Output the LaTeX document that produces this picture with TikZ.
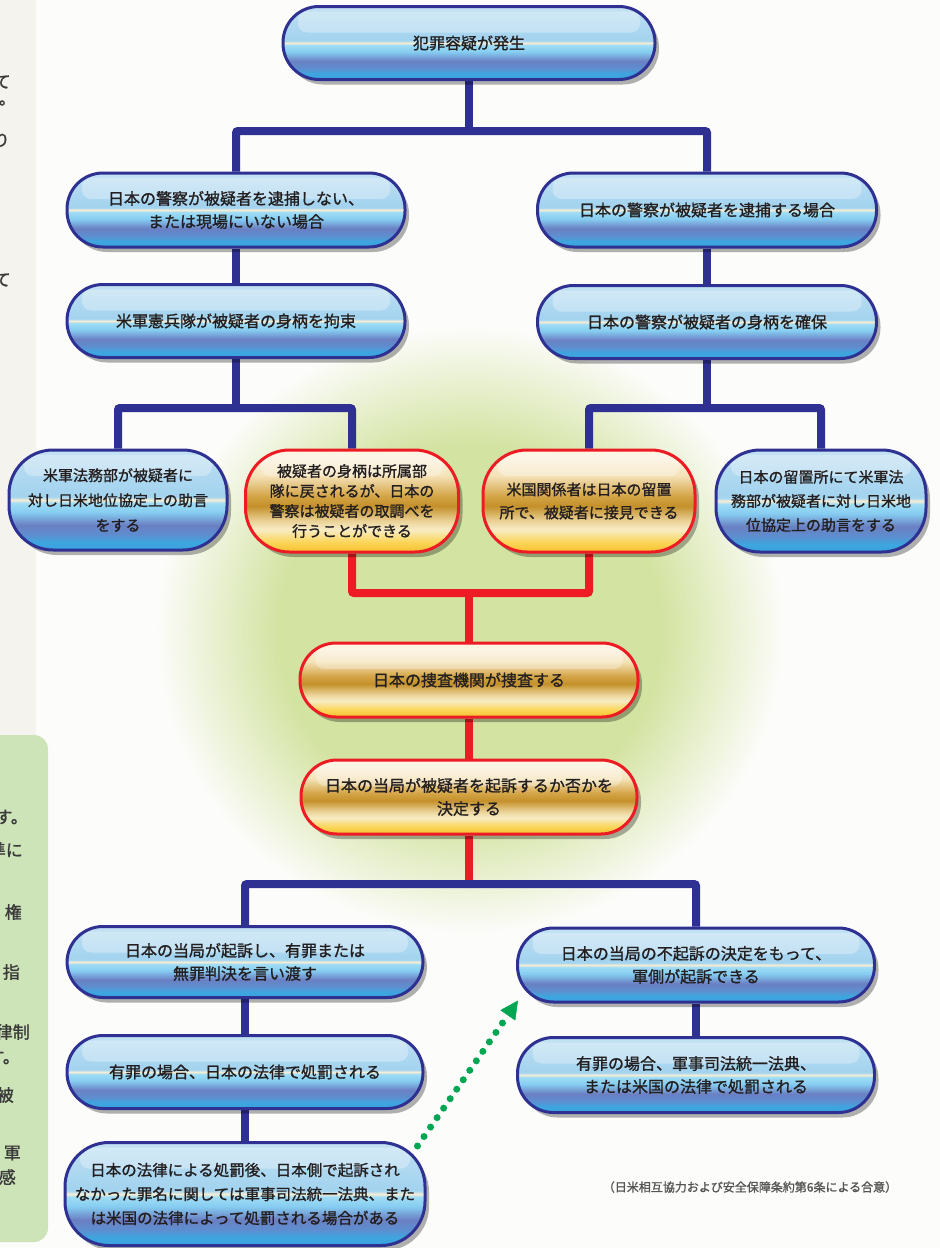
\documentclass[tikz,border=0pt]{standalone}
\usepackage{fontspec}
\newfontfamily\jpfont{Noto Sans CJK JP}[FakeBold=1.2]
\usetikzlibrary{positioning,calc,shadows,arrows.meta,backgrounds}

\definecolor{pillNavy}{HTML}{2E3192}
\definecolor{pillRed}{HTML}{ED1C24}
\definecolor{inkDark}{HTML}{231F20}
\definecolor{inkGray}{HTML}{3A3A3A}
\definecolor{noteGray}{HTML}{555555}
\definecolor{dotGreen}{HTML}{00A651}
\definecolor{glowGreen}{HTML}{D3E3A1}
\definecolor{sideGreen}{HTML}{CDE4B9}
\definecolor{paperLeft}{HTML}{F4F3EE}
\definecolor{paperMain}{HTML}{FCFCFA}
\definecolor{blueA}{HTML}{3AA2DE}
\definecolor{blueB}{HTML}{3EA5DF}
\definecolor{blueC}{HTML}{5D8FD0}
\definecolor{blueD}{HTML}{6A80C3}
\definecolor{blueE}{HTML}{86CDF1}
\definecolor{blueF}{HTML}{A0DCF5}
\definecolor{blueG}{HTML}{F4EDD5}
\definecolor{blueH}{HTML}{A8D6EF}
\definecolor{blueI}{HTML}{A3D3EF}
\definecolor{blueJ}{HTML}{B3DAF1}
\definecolor{blueK}{HTML}{C4E3F4}
\definecolor{goldA}{HTML}{F5C02C}
\definecolor{goldB}{HTML}{FBD65A}
\definecolor{goldC}{HTML}{F8ECC4}
\definecolor{goldD}{HTML}{ECD49B}
\definecolor{goldE}{HTML}{C4902A}
\definecolor{goldF}{HTML}{D4A547}
\definecolor{goldG}{HTML}{F5E3B9}
\definecolor{goldH}{HTML}{FDF7EA}

\pgfdeclareverticalshading{blueGlass}{100bp}{color(0bp)=(blueA); color(25bp)=(blueA);
	color(29bp)=(blueB); color(32.5bp)=(blueC); color(37.5bp)=(blueD);
	color(44bp)=(blueE); color(48.5bp)=(blueF); color(50bp)=(blueG);
	color(51.5bp)=(blueH); color(52.5bp)=(blueI); color(65bp)=(blueJ);
	color(75bp)=(blueK); color(100bp)=(blueK)}
\pgfdeclareverticalshading{goldGlass}{100bp}{color(0bp)=(goldA); color(25bp)=(goldA);
	color(30bp)=(goldB); color(36bp)=(goldC); color(40bp)=(goldD);
	color(47.5bp)=(goldE); color(52.5bp)=(goldF); color(62.5bp)=(goldG);
	color(75bp)=(goldH); color(100bp)=(goldH)}
\pgfdeclareradialshading{greenGlow}{\pgfpoint{0bp}{0bp}}{color(0bp)=(glowGreen); color(6.8bp)=(glowGreen);
	color(11.2bp)=(paperMain); color(50bp)=(paperMain)}

\begin{document}
\begin{tikzpicture}[x=1pt, y=-1pt,
		pill/.style={draw, line width=3pt, rounded corners=#1, align=center, inner sep=0pt, text=inkDark,
				drop shadow={shadow xshift=4pt, shadow yshift=-5pt, fill=black, opacity=.3},
				path picture={\fill[white, opacity=.3, rounded corners=9pt]
						($(path picture bounding box.north west)+(15,5)$) rectangle ($(path picture bounding box.north east)+(-15,26)$);}},
		pill/.default=36pt,
		bluePill/.style={pill=#1, draw=pillNavy, shading=blueGlass, font=\jpfont\fontsize{16}{23}\selectfont},
		bluePill/.default=36pt,
		goldPill/.style={pill=#1, draw=pillRed, shading=goldGlass, font=\jpfont\fontsize{16}{23}\selectfont},
		goldPill/.default=36pt,
		narrowText/.style={font=\jpfont\fontsize{15}{#1}\selectfont},
		navyLine/.style={draw=pillNavy, line width=8pt, rounded corners=2pt},
		redLine/.style={draw=pillRed, line width=8pt, rounded corners=2pt},
		greenDots/.style={draw=dotGreen, line width=7pt, line cap=round, dash pattern=on 0pt off 11.5pt,
				-{Triangle[length=18pt, width=18pt, line width=.5pt]}},
		edgeText/.style={font=\jpfont\fontsize{17}{20}\selectfont, text=inkGray, inner sep=0pt, anchor=east}]
	\useasboundingbox (0,0) rectangle (940,1248);

	\begin{scope}[on background layer]
		\fill[paperMain] (0,0) rectangle (940,1248);
		\fill[shading=greenGlow] (-230,-47) rectangle (1170,1307);
		\fill[paperLeft] (0,0) rectangle (36,735);
		\fill[sideGreen, rounded corners=14pt] (-20,735) rectangle (48,1242);
	\end{scope}

	\foreach \txt/\px/\py [count=\i] in {て/11/82, 。/16/103, り/10/140, て/11/280,
			す。/28/817, 準に/23/850, 権/22/912, 指/20/972, 律制/30/1032, す。/20/1057,
			被/14/1095, 軍/21/1153, 感/16/1177}
		\node[edgeText] (edgeText\i) at (\px,\py) {\txt};

	\node[bluePill, minimum width=372pt, minimum height=73pt] (crime) at (469,43) {犯罪容疑が発生};
	\node[bluePill, minimum width=338pt, minimum height=74pt] (noArrest) at (236,210) {日本の警察が被疑者を逮捕しない、\\または現場にいない場合};
	\node[bluePill, minimum width=339pt, minimum height=74pt] (arrest) at (707,210) {日本の警察が被疑者を逮捕する場合};
	\node[bluePill, minimum width=338pt, minimum height=73pt] (mpCustody) at (236,321) {米軍憲兵隊が被疑者の身柄を拘束};
	\node[bluePill, minimum width=339pt, minimum height=73pt] (jpCustody) at (707,322) {日本の警察が被疑者の身柄を確保};

	\node[bluePill=44pt, narrowText=25, minimum width=218pt, minimum height=100pt] (legalAdvice) at (118,500) {米軍法務部が被疑者に\\対し日米地位協定上の助言\\をする};
	\node[goldPill=44pt, narrowText=20, minimum width=213pt, minimum height=102pt] (returnUnit) at (352,501) {被疑者の身柄は所属部\\隊に戻されるが、日本の\\警察は被疑者の取調べを\\行うことができる};
	\node[goldPill=44pt, narrowText=23, minimum width=212pt, minimum height=102pt] (visitJail) at (589,501) {米国関係者は日本の留置\\所で、被疑者に接見できる};
	\node[bluePill=44pt, narrowText=24, minimum width=210pt, minimum height=102pt] (jailAdvice) at (821,501) {日本の留置所にて米軍法\\務部が被疑者に対し日米地\\位協定上の助言をする};

	\node[goldPill, minimum width=338pt, minimum height=74pt] (investigate) at (469,680) {日本の捜査機関が捜査する};
	\node[goldPill, minimum width=336pt, minimum height=74pt] (decide) at (469,797) {日本の当局が被疑者を起訴するか否かを\\決定する};

	\node[bluePill, minimum width=356pt, minimum height=71pt] (indict) at (245,962) {日本の当局が起訴し、有罪または\\無罪判決を言い渡す};
	\node[bluePill, minimum width=356pt, minimum height=73pt] (punishJp) at (245,1072) {有罪の場合、日本の法律で処罰される};
	\node[bluePill=44pt, font=\jpfont\fontsize{15.5}{24}\selectfont, minimum width=360pt, minimum height=103pt] (afterPunish) at (245,1194) {日本の法律による処罰後、日本側で起訴され\\なかった罪名に関しては軍事司法統一法典、また\\は米国の法律によって処罰される場合がある};
	\node[bluePill, minimum width=357pt, minimum height=74pt] (military) at (696,965) {日本の当局の不起訴の決定をもって、\\軍側が起訴できる};
	\node[bluePill, minimum width=357pt, minimum height=75pt] (punishUs) at (696,1075) {有罪の場合、軍事司法統一法典、\\または米国の法律で処罰される};

	\node[font=\jpfont\fontsize{12}{14}\selectfont, text=noteGray, inner sep=0pt] (treatyNote) at (750,1187) {（日米相互協力および安全保障条約第6条による合意）};

	\coordinate (forkTop) at (469,131);
	\coordinate (forkLeft) at (236,408);
	\coordinate (forkRight) at (707,408);
	\coordinate (redJoin) at (469,593);
	\coordinate (forkBottom) at (469,884);

	\begin{scope}[on background layer]
		\draw[navyLine] (crime.south) -- (forkTop);
		\draw[navyLine] (noArrest.north) |- (forkTop) -| (arrest.north);
		\draw[navyLine] (noArrest.south) -- (mpCustody.north);
		\draw[navyLine] (arrest.south) -- (jpCustody.north);
		\draw[navyLine] (mpCustody.south) -- (forkLeft);
		\draw[navyLine] (legalAdvice.north) |- (forkLeft) -| (returnUnit.north);
		\draw[navyLine] (jpCustody.south) -- (forkRight);
		\draw[navyLine] (visitJail.north) |- (forkRight) -| (jailAdvice.north);
		\draw[redLine] (returnUnit.south) |- (redJoin) -| (visitJail.south);
		\draw[redLine] (redJoin) -- (investigate.north);
		\draw[redLine] (investigate.south) -- (decide.north);
		\draw[redLine] (decide.south) -- (forkBottom);
		\draw[navyLine] (indict.north) |- (forkBottom) -| (military.north);
		\draw[navyLine] (indict.south) -- (punishJp.north);
		\draw[navyLine] (punishJp.south) -- (afterPunish.north);
		\draw[navyLine] (military.south) -- (punishUs.north);
	\end{scope}

	\draw[greenDots] ($(afterPunish.north east)+(-9,5)$) -- ($(military.south west)+(2,-3)$);
\end{tikzpicture}
\end{document}
